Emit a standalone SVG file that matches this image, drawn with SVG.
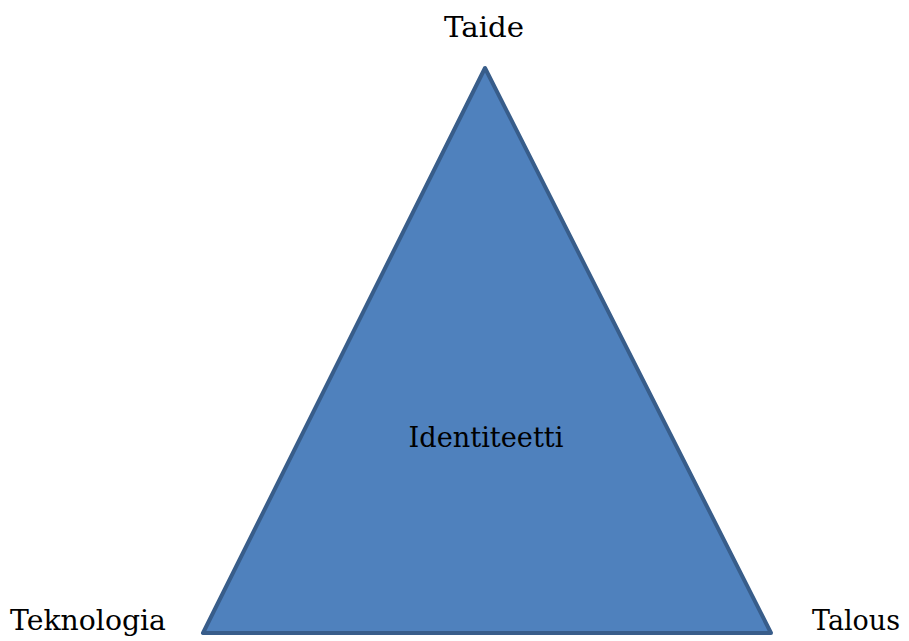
<svg xmlns="http://www.w3.org/2000/svg" width="909" height="641" viewBox="0 0 909 641">
<style>
.lbl{font-family:"DejaVu Serif","Liberation Serif",serif;font-size:27px;fill:#000}
</style>
<rect width="909" height="641" fill="#fff"/>
<g id="triangle">
<polygon points="485,68 203,633 771,633" fill="#4F81BD" stroke="#385D8A" stroke-width="4" stroke-linejoin="round"/>
<text class="lbl" x="486" y="447" text-anchor="middle" textLength="155" lengthAdjust="spacingAndGlyphs">Identiteetti</text>
</g>
<g id="taide"><text class="lbl" x="484" y="37" text-anchor="middle" textLength="80" lengthAdjust="spacingAndGlyphs">Taide</text></g>
<g id="teknologia"><text class="lbl" x="10" y="630" textLength="156" lengthAdjust="spacingAndGlyphs">Teknologia</text></g>
<g id="talous"><text class="lbl" x="812" y="630" textLength="88" lengthAdjust="spacingAndGlyphs">Talous</text></g>
<g id="connectors"></g>
</svg>
